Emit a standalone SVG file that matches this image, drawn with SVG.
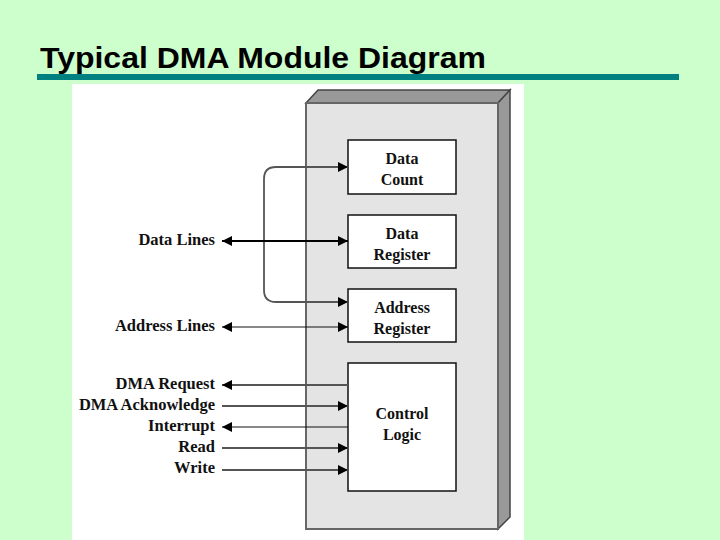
<svg xmlns="http://www.w3.org/2000/svg" width="720" height="540" viewBox="0 0 720 540">
<defs>
<marker id="ah" viewBox="0 0 10 10" refX="10" refY="5" markerWidth="10" markerHeight="10" markerUnits="userSpaceOnUse" orient="auto-start-reverse">
<path d="M0,0 L10,5 L0,10 Z" fill="#000"/>
</marker>
<style>
.lbl{font-family:"Liberation Serif","Times New Roman",serif;font-weight:bold;font-size:16.5px;fill:#111;text-anchor:end}
.btx{font-family:"Liberation Serif","Times New Roman",serif;font-weight:bold;font-size:16px;fill:#111;text-anchor:middle}
.box{fill:#fff;stroke:#111;stroke-width:1.5}
.ln{fill:none;stroke:#555;stroke-width:1.8}
.thin{fill:none;stroke:#111;stroke-width:1}
</style>
</defs>
<rect width="720" height="540" fill="#ccffcc"/>
<text x="40" y="68" font-family="Liberation Sans,Arial,sans-serif" font-weight="bold" font-size="29" textLength="446" lengthAdjust="spacingAndGlyphs" fill="#000">Typical DMA Module Diagram</text>
<rect x="37" y="74" width="642" height="6" fill="#008080"/>
<rect x="72" y="84" width="452" height="456" fill="#fff"/>

<g id="module">
<polygon points="306,103 318,90 510,90 498,103" fill="#999" stroke="#444" stroke-width="1.5"/>
<polygon points="498,103 510,90 510,517 498,529" fill="#999" stroke="#444" stroke-width="1.5"/>
<rect x="306" y="103" width="192" height="426" fill="#e4e4e4" stroke="#666" stroke-width="2"/>
</g>

<g id="data-count">
<rect class="box" x="348" y="140" width="108" height="54"/>
<text class="btx" x="402" y="164">Data</text>
<text class="btx" x="402" y="185">Count</text>
</g>
<g id="data-register">
<rect class="box" x="348" y="215" width="108" height="53"/>
<text class="btx" x="402" y="239">Data</text>
<text class="btx" x="402" y="260">Register</text>
</g>
<g id="address-register">
<rect class="box" x="348" y="289" width="108" height="53"/>
<text class="btx" x="402" y="313">Address</text>
<text class="btx" x="402" y="334">Register</text>
</g>
<g id="control-logic">
<rect class="box" x="348" y="363" width="108" height="128"/>
<text class="btx" x="402" y="419">Control</text>
<text class="btx" x="402" y="440">Logic</text>
</g>

<g id="labels">
<text class="lbl" x="215" y="245">Data Lines</text>
<text class="lbl" x="215" y="331">Address Lines</text>
<text class="lbl" x="215" y="389">DMA Request</text>
<text class="lbl" x="215" y="410">DMA Acknowledge</text>
<text class="lbl" x="215" y="431">Interrupt</text>
<text class="lbl" x="215" y="452">Read</text>
<text class="lbl" x="215" y="473">Write</text>
</g>

<g id="connectors">
<path class="ln" d="M338,167 H276 Q264,167 264,179 V290 Q264,302 276,302 H338"/>
<line x1="336" y1="167" x2="348" y2="167" class="ln" marker-end="url(#ah)"/>
<line x1="336" y1="302" x2="348" y2="302" class="ln" marker-end="url(#ah)"/>
<line x1="222" y1="241" x2="348" y2="241" stroke="#000" stroke-width="2" marker-start="url(#ah)" marker-end="url(#ah)"/>
<line x1="222" y1="327" x2="348" y2="327" class="thin" marker-start="url(#ah)" marker-end="url(#ah)"/>
<line x1="348" y1="385" x2="222" y2="385" class="ln" stroke="#666" marker-end="url(#ah)"/>
<line x1="222" y1="406" x2="348" y2="406" class="ln" stroke="#444" marker-end="url(#ah)"/>
<line x1="348" y1="427" x2="222" y2="427" class="thin" marker-end="url(#ah)"/>
<line x1="222" y1="448" x2="348" y2="448" class="ln" stroke="#777" marker-end="url(#ah)"/>
<line x1="222" y1="470" x2="348" y2="470" class="ln" stroke="#666" marker-end="url(#ah)"/>
</g>
</svg>
